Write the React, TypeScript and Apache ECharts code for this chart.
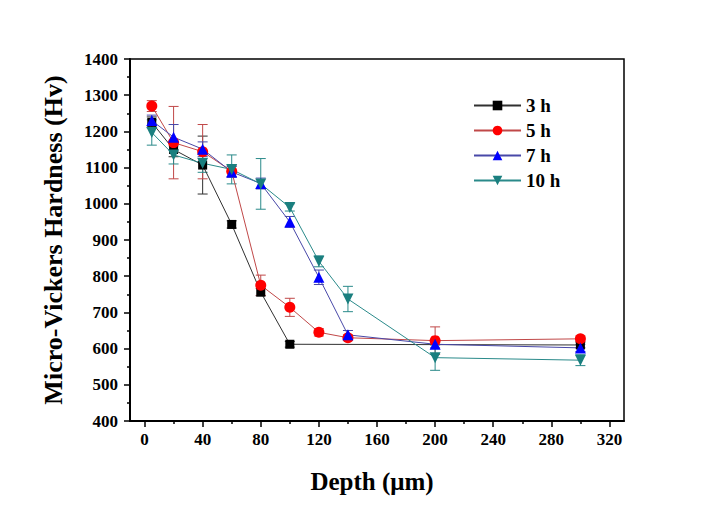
import React, { useEffect, useRef } from "react";
import * as echarts from "echarts";

const depth3 = [5, 20, 40, 60, 80, 100, 300];
const depthAll = [5, 20, 40, 60, 80, 100, 120, 140, 200, 300];

const h3 = [1225, 1150, 1107, 943, 756, 612, 610];
const err3 = [15, 20, 80, 10, 10, 8, 8];
const h5 = [1270, 1169, 1144, 1090, 775, 714, 645, 630, 622, 627];
const err5 = [15, 100, 75, 15, 28, 25, 10, 8, 38, 8];
const h7 = [1230, 1184, 1151, 1088, 1056, 950, 797, 638, 612, 602];
const err7 = [15, 35, 20, 15, 15, 15, 20, 12, 10, 10];
const h10 = [1197, 1135, 1112, 1095, 1055, 990, 841, 737, 575, 568];
const err10 = [35, 25, 25, 40, 70, 10, 15, 35, 35, 15];

const xTicks = [0, 40, 80, 120, 160, 200, 240, 280, 320];
const xMinorTicks = [20, 60, 100, 140, 180, 220, 260, 300];

const seriesNames = ["3 h", "5 h", "7 h", "10 h"];
const markerColors = ["#000000", "#ff0000", "#0000ff", "#1a7f7f"];
const lineColors = ["#303030", "#c04848", "#4848a8", "#2a8a8a"];
const symbols = ["rect", "circle", "triangle", "triangle"];
const rotations = [0, 0, 0, 180];

const xTitle = "Depth (μm)";
const yTitle = "Micro-Vickers Hardness (Hv)";

const FONT = "'Liberation Serif', 'Times New Roman', serif";

export default function App() {
  const ref = useRef<HTMLDivElement>(null);
  useEffect(() => {
    if (!ref.current) return;
    const chart = echarts.init(ref.current, undefined, { renderer: "svg" });
    const xs = [depth3, depthAll, depthAll, depthAll];
    const ys = [h3, h5, h7, h10];
    const es = [err3, err5, err7, err10];

    const lineSeries: any[] = ys.map((vals, i) => ({
      name: seriesNames[i],
      type: "line",
      data: vals.map((v, k) => [xs[i][k], v]),
      symbol: symbols[i],
      symbolRotate: rotations[i],
      symbolSize: i === 0 ? 9 : 11,
      itemStyle: { color: markerColors[i] },
      lineStyle: { color: lineColors[i], width: 1 },
      z: 3,
    }));

    const errSeries: any[] = ys.map((vals, i) => ({
      type: "custom",
      data: vals.map((v, k) => [xs[i][k], v - es[i][k], v + es[i][k]]),
      encode: { x: 0, y: [1, 2] },
      z: 2,
      silent: true,
      renderItem: (params: any, api: any) => {
        const x = api.value(0);
        const p1 = api.coord([x, api.value(2)]);
        const p2 = api.coord([x, api.value(1)]);
        const w = 5;
        const st = { stroke: lineColors[i], lineWidth: 1 };
        return {
          type: "group",
          children: [
            { type: "line", shape: { x1: p1[0], y1: p1[1], x2: p2[0], y2: p2[1] }, style: st },
            { type: "line", shape: { x1: p1[0] - w, y1: p1[1], x2: p1[0] + w, y2: p1[1] }, style: st },
            { type: "line", shape: { x1: p2[0] - w, y1: p2[1], x2: p2[0] + w, y2: p2[1] }, style: st },
          ],
        };
      },
    }));

    chart.setOption({
      animation: false,
      backgroundColor: "#ffffff",
      grid: {
        left: 130,
        right: 104,
        top: 59,
        bottom: 88,
        show: true,
        borderColor: "#000",
        borderWidth: 1.5,
      },
      graphic: [
        {
          type: "text",
          x: 372,
          y: 481,
          style: {
            text: xTitle,
            font: `bold 25px ${FONT}`,
            fill: "#000",
            align: "center",
            verticalAlign: "middle",
          },
        },
        {
          type: "text",
          x: 53,
          y: 240,
          rotation: Math.PI / 2,
          style: {
            text: yTitle,
            font: `bold 26px ${FONT}`,
            fill: "#000",
            align: "center",
            verticalAlign: "middle",
          },
        },
      ],
      legend: {
        data: seriesNames,
        orient: "vertical",
        left: 468,
        top: 91,
        itemWidth: 47,
        itemHeight: 12,
        itemGap: 6,
        textStyle: { fontFamily: FONT, fontWeight: "bold", fontSize: 19, lineHeight: 19, color: "#000" },
      },
      xAxis: [
        {
          type: "value",
          min: -10,
          max: 330,
          splitLine: { show: false },
          axisLine: { onZero: false, lineStyle: { color: "#000", width: 2 } },
          axisTick: { show: true, length: 6, customValues: xTicks, lineStyle: { color: "#000", width: 1.5 } },
          axisLabel: {
            customValues: xTicks,
            margin: 10,
            fontFamily: FONT,
            fontWeight: "bold",
            fontSize: 17,
            color: "#000",
          },
        },
        {
          type: "value",
          min: -10,
          max: 330,
          position: "bottom",
          splitLine: { show: false },
          axisLine: { show: false, onZero: false },
          axisTick: { show: true, length: 3, customValues: xMinorTicks, lineStyle: { color: "#000", width: 1.5 } },
          axisLabel: { show: false },
        },
      ],
      yAxis: {
        type: "value",
        min: 400,
        max: 1400,
        interval: 100,
        splitLine: { show: false },
        axisLine: { show: true, onZero: false, lineStyle: { color: "#000", width: 2 } },
        axisTick: { show: true, length: 6, lineStyle: { color: "#000", width: 1.5 } },
        minorTick: { show: true, splitNumber: 2, length: 3, lineStyle: { color: "#000", width: 1.5 } },
        axisLabel: {
          margin: 12,
          fontFamily: FONT,
          fontWeight: "bold",
          fontSize: 17,
          color: "#000",
          formatter: (v: number) => String(v),
        },
      },
      series: [...errSeries, ...lineSeries],
    });
    return () => chart.dispose();
  }, []);
  return (
    <div
      ref={ref}
      style={{ position: "absolute", left: 0, top: 0, width: 728, height: 509 }}
    />
  );
}
